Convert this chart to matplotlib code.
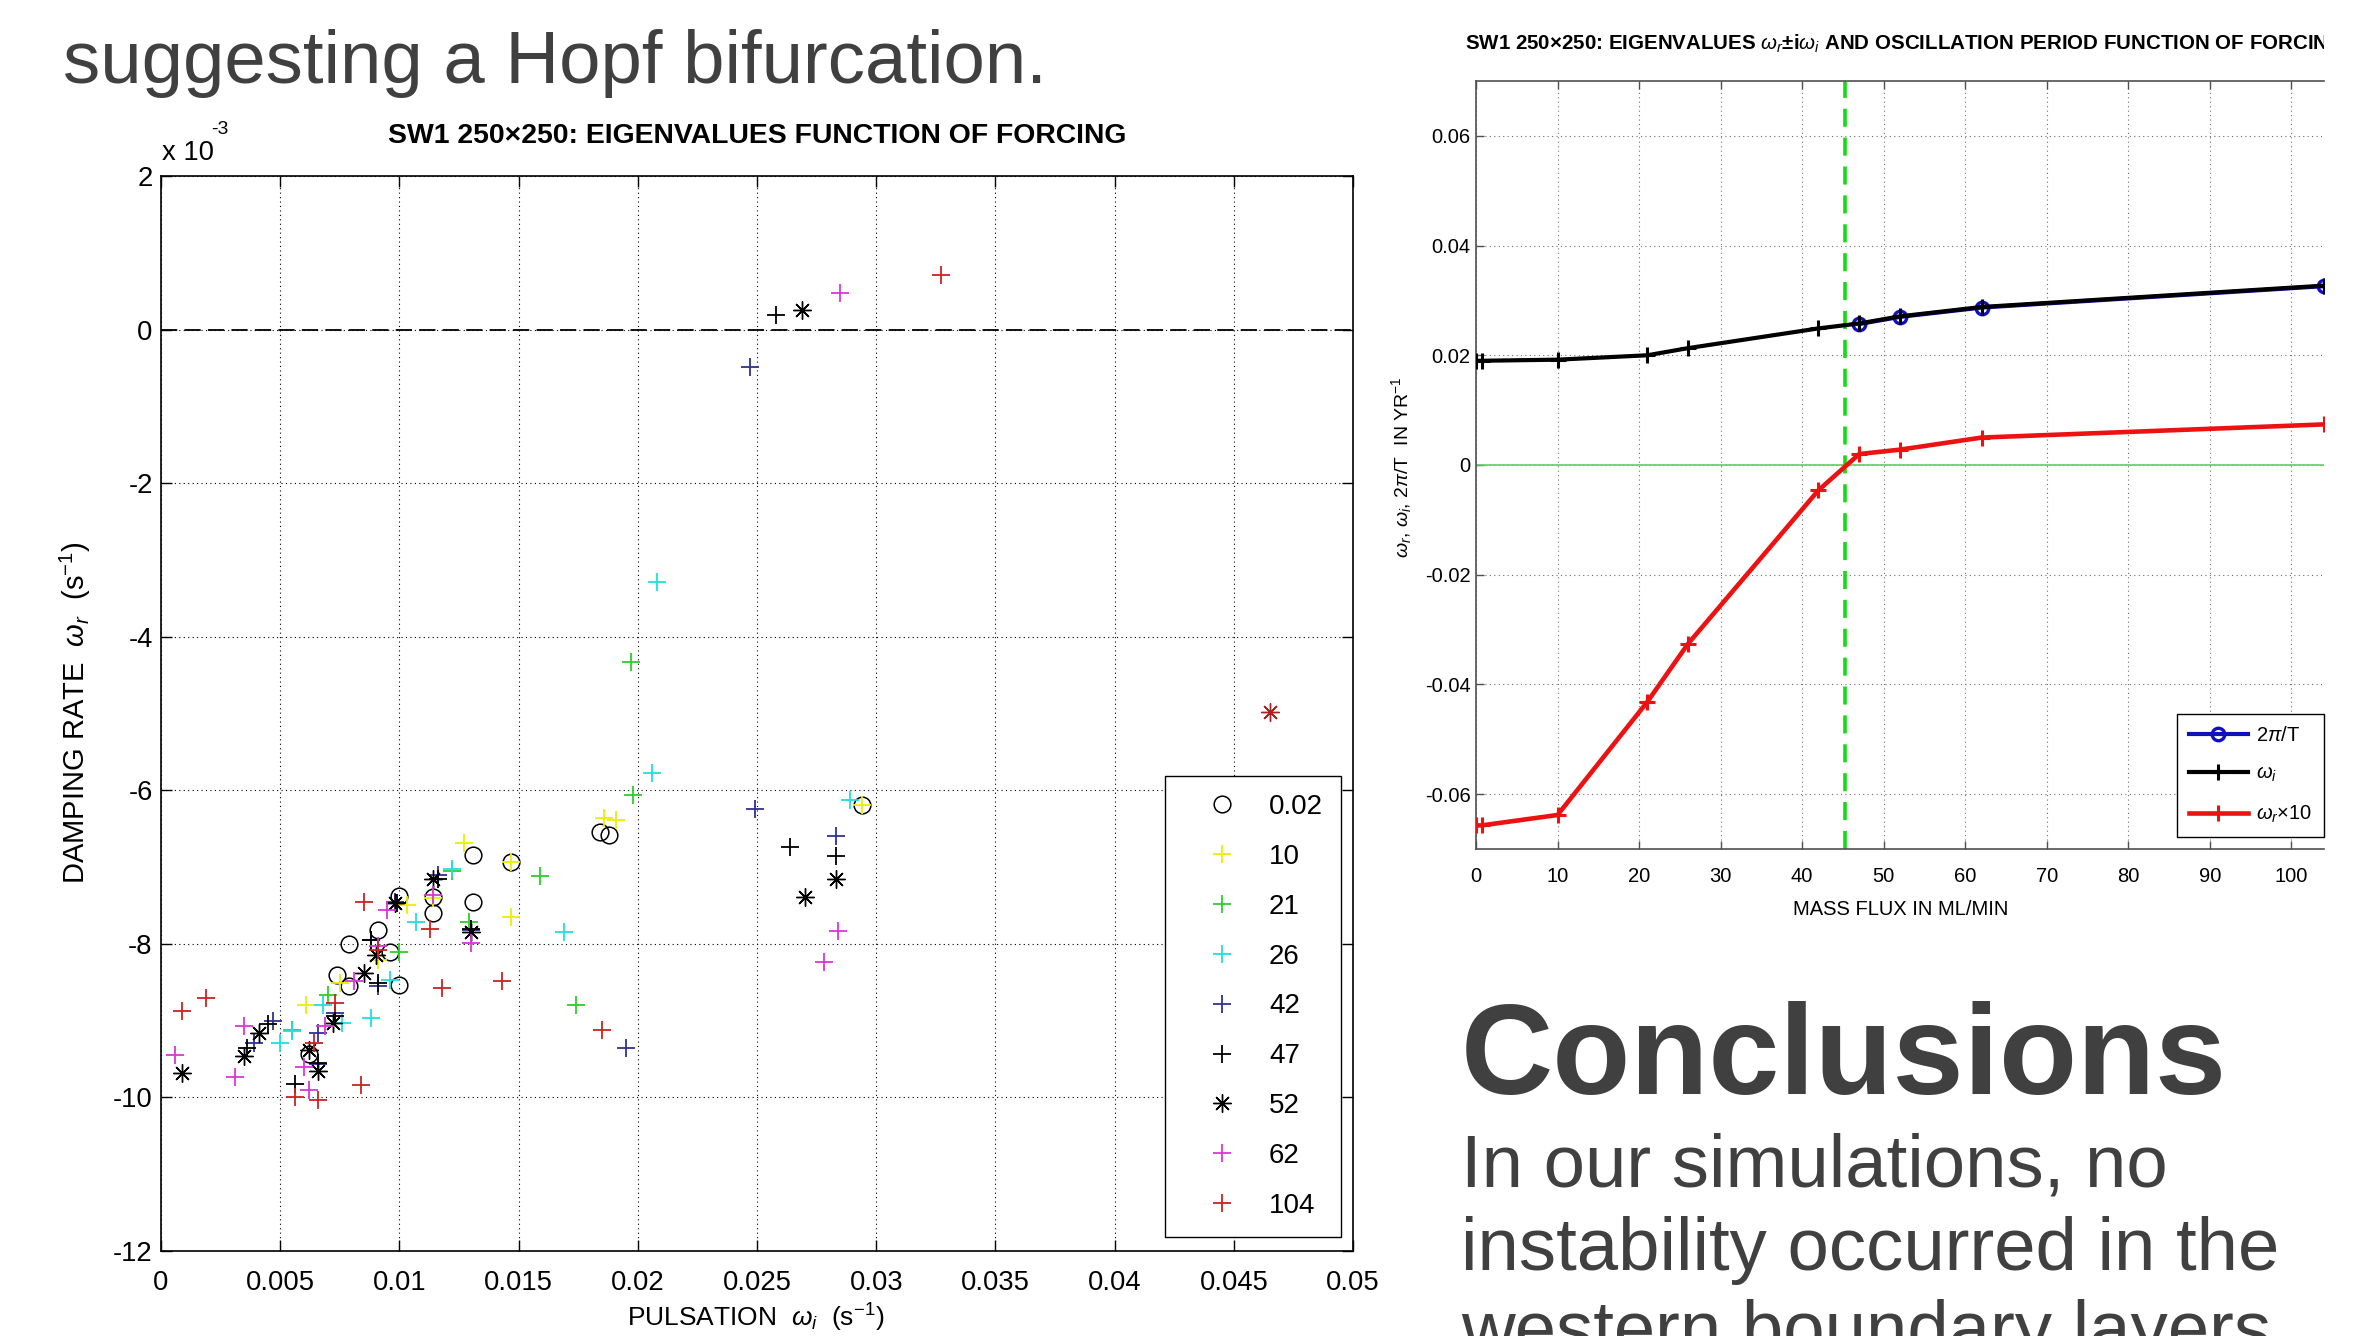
import matplotlib
matplotlib.use("Agg")
import matplotlib.pyplot as plt
from matplotlib import font_manager
from matplotlib.transforms import Bbox

W, H, DPI = 2357, 1336, 100

# ---- left chart: eigenvalues (omega_i, omega_r in 1e-3 s^-1) per forcing ----
forcings = ["0.02", "10", "21", "26", "42", "47", "52", "62", "104"]

x_002 = [0.0131, 0.0147, 0.0100, 0.0114, 0.0131, 0.0114, 0.0091, 0.0079, 0.0096, 0.0074, 0.0079, 0.0100, 0.0184, 0.0188, 0.0294, 0.0062]
y_002 = [-6.84, -6.93, -7.38, -7.39, -7.45, -7.60, -7.82, -8.00, -8.10, -8.41, -8.55, -8.53, -6.54, -6.58, -6.19, -9.44]

x_10 = [0.0127, 0.0186, 0.0191, 0.0147, 0.0147, 0.0114, 0.0103, 0.0091, 0.0075, 0.0061, 0.0294]
y_10 = [-6.69, -6.36, -6.39, -6.93, -7.65, -7.40, -7.50, -8.21, -8.51, -8.80, -6.19]

x_21 = [0.0197, 0.0198, 0.0159, 0.0122, 0.0129, 0.0100, 0.0070, 0.0055, 0.0174]
y_21 = [-4.33, -6.06, -7.11, -7.05, -7.71, -8.10, -8.66, -9.12, -8.79]

x_26 = [0.0208, 0.0206, 0.0289, 0.0122, 0.0107, 0.0169, 0.0096, 0.0068, 0.0088, 0.0076, 0.0050, 0.0055]
y_26 = [-3.29, -5.78, -6.12, -7.02, -7.71, -7.84, -8.47, -8.80, -8.96, -9.03, -9.29, -9.14]

x_42 = [0.0247, 0.0249, 0.0283, 0.0116, 0.0098, 0.0088, 0.0130, 0.0091, 0.0195, 0.0073, 0.0066, 0.0047, 0.0039, 0.0066]
y_42 = [-0.49, -6.24, -6.60, -7.10, -7.45, -7.95, -7.82, -8.55, -9.35, -8.90, -9.16, -9.01, -9.29, -9.57]

x_47 = [0.0258, 0.0264, 0.0283, 0.0116, 0.0099, 0.0130, 0.0088, 0.0091, 0.0073, 0.0045, 0.0056, 0.0036, 0.0066]
y_47 = [0.19, -6.74, -6.85, -7.15, -7.47, -7.80, -7.95, -8.51, -8.94, -9.05, -9.83, -9.35, -9.55]

x_52 = [0.0269, 0.0283, 0.0270, 0.0114, 0.0098, 0.0130, 0.0090, 0.0085, 0.0072, 0.0041, 0.0035, 0.0062, 0.0066, 0.0009]
y_52 = [0.26, -7.15, -7.39, -7.15, -7.47, -7.84, -8.14, -8.38, -9.03, -9.16, -9.46, -9.38, -9.65, -9.68]

x_62 = [0.0285, 0.0284, 0.0278, 0.0114, 0.0095, 0.0130, 0.0091, 0.0081, 0.0069, 0.0035, 0.0060, 0.0062, 0.0031, 0.0006]
y_62 = [0.48, -7.83, -8.23, -7.36, -7.56, -7.99, -8.03, -8.49, -9.07, -9.07, -9.61, -9.90, -9.74, -9.45]

x_104 = [0.0327, 0.0085, 0.0113, 0.0091, 0.0118, 0.0143, 0.0185, 0.0019, 0.0009, 0.0073, 0.0064, 0.0084, 0.0056, 0.0066]
y_104 = [0.71, -7.46, -7.80, -8.08, -8.57, -8.48, -9.12, -8.70, -8.88, -8.77, -9.29, -9.84, -10.00, -10.03]
x_104_star = [0.0465]
y_104_star = [-4.98]

left_xticks = [0, 0.005, 0.01, 0.015, 0.02, 0.025, 0.03, 0.035, 0.04, 0.045, 0.05]
left_xticklabels = ["0", "0.005", "0.01", "0.015", "0.02", "0.025", "0.03", "0.035", "0.04", "0.045", "0.05"]
left_yticks = [2, 0, -2, -4, -6, -8, -10, -12]

# ---- right chart: eigenvalues and period vs mass flux ----
flux = [0.02, 0.7, 10, 21, 26, 42, 47, 52, 62, 104]
omega_i = [0.0190, 0.0190, 0.0192, 0.0200, 0.0213, 0.0249, 0.0258, 0.0271, 0.0288, 0.0327]
omega_r10 = [-0.0657, -0.0657, -0.0638, -0.0432, -0.0326, -0.0046, 0.0020, 0.0028, 0.0050, 0.0074]
period_flux = [47, 52, 62, 104]
two_pi_over_t = [0.0257, 0.0270, 0.0287, 0.0326]
hopf_flux = 45.2

right_xticks = [0, 10, 20, 30, 40, 50, 60, 70, 80, 90, 100]
right_yticks = [0.06, 0.04, 0.02, 0, -0.02, -0.04, -0.06]
right_yticklabels = ["0.06", "0.04", "0.02", "0", "-0.02", "-0.04", "-0.06"]

# ---- slide text ----
intro_line = "suggesting a Hopf bifurcation."
heading = "Conclusions"
body_lines = ["In our simulations, no", "instability occurred in the", "western boundary layers"]

plt.rcParams["font.family"] = ["Liberation Sans", "DejaVu Sans"]
plt.rcParams["mathtext.fontset"] = "custom"
plt.rcParams["mathtext.rm"] = "Liberation Sans"
plt.rcParams["mathtext.it"] = "Liberation Sans:italic"
plt.rcParams["mathtext.bf"] = "Liberation Sans:bold"
plt.rcParams["axes.unicode_minus"] = False

installed = {f.name for f in font_manager.fontManager.ttflist}
if "Liberation Sans Narrow" in installed:
    title_font = dict(family=["Liberation Sans Narrow", "DejaVu Sans"], weight="bold")
    left_title_size, right_title_size = 24.8, 18
else:
    title_font = dict(family=["Liberation Sans", "DejaVu Sans"], weight="bold")
    left_title_size, right_title_size = 20.4, 14.8


def fx(px):
    return px / W


def fy(py):
    return 1 - py / H


fig = plt.figure(figsize=(W / DPI, H / DPI), dpi=DPI)
fig.patch.set_facecolor("white")
grey_text = "#404040"

# slide text
fig.text(fx(63), fy(83), intro_line, fontsize=53.6, color=grey_text, va="baseline")
fig.text(fx(1461), fy(1094), heading, fontsize=92, weight="bold", color=grey_text, va="baseline")
for i, line in enumerate(body_lines):
    fig.text(fx(1461), fy(1187 + 83 * i), line, fontsize=53.6, color=grey_text, va="baseline")

# ---------------- left chart ----------------
ax1 = fig.add_axes([fx(161), fy(1251), (1353 - 161) / W, (1251 - 176) / H])

series = [
    (x_002, y_002, "o", "black"),
    (x_10, y_10, "+", "#eeee00"),
    (x_21, y_21, "+", "#2bd02b"),
    (x_26, y_26, "+", "#22dede"),
    (x_42, y_42, "+", "#303095"),
    (x_47, y_47, "+", "black"),
    (x_52, y_52, (8, 2, 0), "black"),
    (x_62, y_62, "+", "#dd33dd"),
    (x_104, y_104, "+", "#cc2222"),
]
for (xs, ys, mk, col), lab in zip(series, forcings):
    if mk == "o":
        ax1.plot(xs, ys, ls="none", marker="o", ms=12, mfc="none", mec=col, mew=1.1, label=lab)
    elif mk == "+":
        ax1.plot(xs, ys, ls="none", marker=mk, ms=13, color=col, mew=1.3, label=lab)
    else:
        ax1.plot(xs, ys, ls="none", marker=mk, ms=13, color=col, mew=1.0, label=lab)
ax1.plot(x_104_star, y_104_star, ls="none", marker=(8, 2, 0), ms=13, color="#b02020", mew=1.0)

ax1.axhline(0, color="black", lw=1.3, dashes=(9, 4), zorder=1)
ax1.set_xlim(0, 0.05)
ax1.set_ylim(-12, 2)
ax1.set_xticks(left_xticks)
ax1.set_xticklabels(left_xticklabels)
ax1.set_yticks(left_yticks)
ax1.set_yticklabels([str(v) for v in left_yticks])
ax1.grid(True, linestyle=(0, (1, 3)), color="black", lw=0.8)
ax1.set_axisbelow(True)
ax1.tick_params(direction="in", top=True, right=True, length=8, width=1, labelsize=19.7)
ax1.tick_params(axis="x", pad=14)
ax1.tick_params(axis="y", pad=6)
for sp in ax1.spines.values():
    sp.set_linewidth(1.2)

leg1 = ax1.legend(loc="lower right", bbox_to_anchor=(0.990, 0.013), borderaxespad=0, fontsize=20,
                  numpoints=1, fancybox=False, edgecolor="black", framealpha=1, borderpad=0.65,
                  labelspacing=0.86, handlelength=2.8, handletextpad=0.3)
leg1.get_frame().set_linewidth(1.0)

fig.text(fx(757), fy(143), "SW1 250×250: EIGENVALUES FUNCTION OF FORCING", ha="center",
         va="baseline", fontsize=left_title_size, **title_font)
fig.text(fx(162), fy(160), "x 10", fontsize=19.7, va="baseline")
fig.text(fx(211), fy(134), "-3", fontsize=14, va="baseline")
fig.text(fx(75), fy(713), r"DAMPING RATE  $\omega_r$  (s$^{-1}$)", rotation=90,
         ha="center", va="center", fontsize=21)
fig.text(fx(756), fy(1327), r"PULSATION  $\omega_i$  (s$^{-1}$)", ha="center",
         va="baseline", fontsize=19)

# ---------------- right chart ----------------
ax2 = fig.add_axes([fx(1476), fy(849), (2324 - 1476) / W, (849 - 81) / H])
ax2.axhline(0, color="#66cc66", lw=1.2, zorder=1)
ax2.axvline(hopf_flux, color="#11dd11", lw=2.6, dashes=(5, 3), zorder=2)
ax2.plot(period_flux, two_pi_over_t, color="#1010c0", lw=3, marker="o", ms=9,
         mfc="none", mew=2.4, label=r"2$\pi$/T", zorder=3)
ax2.plot(flux, omega_i, color="black", lw=3, marker="+", ms=12, mew=2.2,
         label=r"$\omega_i$", zorder=4)
ax2.plot(flux, omega_r10, color="#ee1111", lw=3.3, marker="+", ms=12, mew=2.2,
         label=r"$\omega_r$×10", zorder=4)

ax2.set_xlim(0, 104)
ax2.set_ylim(-0.07, 0.07)
ax2.set_xticks(right_xticks)
ax2.set_yticks(right_yticks)
ax2.set_yticklabels(right_yticklabels)
ax2.grid(True, linestyle=(0, (1, 3)), color="#707070", lw=0.8)
ax2.set_axisbelow(True)
ax2.tick_params(direction="in", top=True, right=False, length=6, width=1,
                color="#505050", labelsize=14.5)
ax2.tick_params(axis="x", pad=13)
ax2.tick_params(axis="y", pad=4)
ax2.spines["right"].set_visible(False)
for sp in ("left", "bottom", "top"):
    ax2.spines[sp].set_color("#505050")
    ax2.spines[sp].set_linewidth(1.2)

ax2.legend(loc="lower right", bbox_to_anchor=(1.0, 12 / 768), borderaxespad=0, fontsize=14.5,
           fancybox=False, edgecolor="black", framealpha=1, borderpad=0.6,
           labelspacing=0.95, handlelength=2.9, handletextpad=0.4)

rt = fig.text(fx(1905), fy(50), r"SW1 250×250: EIGENVALUES $\omega_r$±i$\omega_i$ AND OSCILLATION PERIOD FUNCTION OF FORCING",
              ha="center", va="baseline", fontsize=right_title_size, **title_font)
rt.set_clip_box(Bbox.from_extents(0, 0, 2324, H))
rt.set_clip_on(True)

fig.text(fx(1402), fy(467), r"$\omega_r$, $\omega_i$, 2$\pi$/T  IN YR$^{-1}$", rotation=90,
         ha="center", va="center", fontsize=14)
fig.text(fx(1901), fy(915), "MASS FLUX IN ML/MIN", ha="center", va="baseline", fontsize=14.5)

fig.savefig("out.png", dpi=DPI)
